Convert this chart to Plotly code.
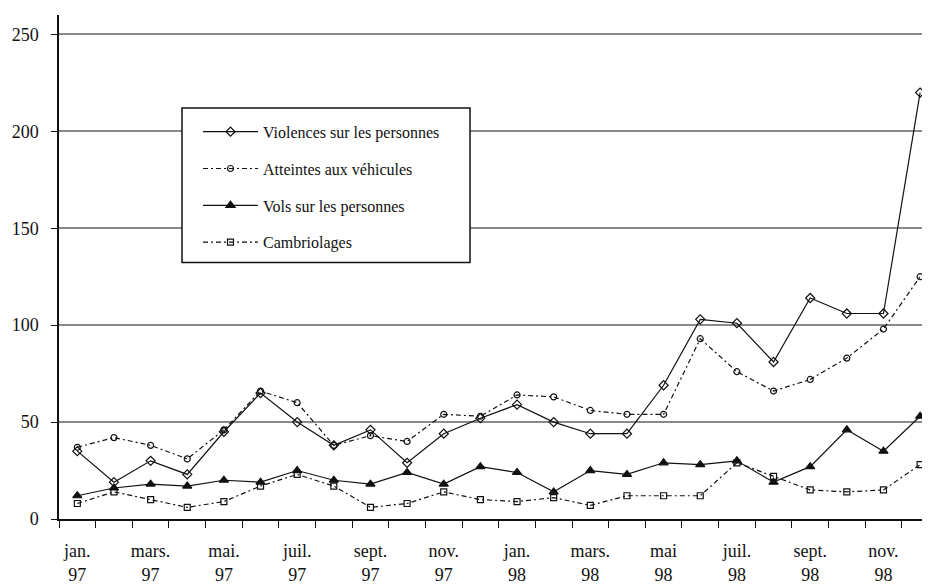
import plotly.graph_objects as go

months = ["jan. 97", "févr. 97", "mars. 97", "avr. 97", "mai. 97", "juin 97", "juil. 97", "août 97",
          "sept. 97", "oct. 97", "nov. 97", "déc. 97",
          "jan. 98", "févr. 98", "mars. 98", "avr. 98", "mai 98", "juin 98", "juil. 98", "août 98",
          "sept. 98", "oct. 98", "nov. 98", "déc. 98"]
tick_labels = ["jan.<br>97", "mars.<br>97", "mai.<br>97", "juil.<br>97", "sept.<br>97", "nov.<br>97",
               "jan.<br>98", "mars.<br>98", "mai<br>98", "juil.<br>98", "sept.<br>98", "nov.<br>98"]

violences = [35, 19, 30, 23, 45, 65, 50, 38, 46, 29, 44, 52,
             59, 50, 44, 44, 69, 103, 101, 81, 114, 106, 106, 220]
atteintes = [37, 42, 38, 31, 46, 66, 60, 38, 43, 40, 54, 53,
             64, 63, 56, 54, 54, 93, 76, 66, 72, 83, 98, 125]
vols = [12, 16, 18, 17, 20, 19, 25, 20, 18, 24, 18, 27,
        24, 14, 25, 23, 29, 28, 30, 19, 27, 46, 35, 53]
cambriolages = [8, 14, 10, 6, 9, 17, 23, 17, 6, 8, 14, 10,
                9, 11, 7, 12, 12, 12, 29, 22, 15, 14, 15, 28]

names = ["Violences sur les personnes", "Atteintes aux véhicules",
         "Vols sur les personnes", "Cambriolages"]

x = list(range(len(months)))
font_family = "Liberation Serif, Times New Roman, serif"

# page body has an 8px margin: figure is sized/offset to compensate
W, H = 922, 577
ML, MR, MT, MB = 51, 0, 7, 55
PW, PH = W - ML - MR, H - MT - MB

def px_x(xp):  # absolute page x -> paper
    return (xp - 8 - ML) / PW

def px_y(yp):  # absolute page y -> paper
    return (8 + MT + PH - yp) / PH

fig = go.Figure()
styles = [
    (violences, "solid", "diamond-open", 7),
    (atteintes, "5px,3px,2px,3px", "circle-open", 6),
    (vols, "solid", "triangle-up", 8),
    (cambriolages, "5px,3px,2px,3px", "square-open", 6),
]
for i, (vals, dash, sym, sz) in enumerate(styles):
    fig.add_trace(go.Scatter(
        x=x, y=vals, name=names[i], mode="lines+markers",
        customdata=months, legendgroup=f"g{i}",
        line=dict(color="#111111", width=1.2, dash=dash),
        marker=dict(symbol=sym, size=sz, color="#111111",
                    line=dict(color="#111111", width=1.2)),
    ))

fig.update_layout(
    width=W, height=H,
    margin=dict(l=ML, r=MR, t=MT, b=MB),
    paper_bgcolor="white", plot_bgcolor="white",
    font=dict(family=font_family, color="#111111", size=15),
    showlegend=True,
    legend=dict(
        x=px_x(198), y=px_y(117), xanchor="left", yanchor="top",
        bgcolor="rgba(0,0,0,0)", borderwidth=0,
        font=dict(family=font_family, size=16, color="#111111"),
        itemwidth=55, tracegroupgap=13,
    ),
    shapes=[dict(type="rect", xref="paper", yref="paper",
                 x0=px_x(182), x1=px_x(470),
                 y0=px_y(268), y1=px_y(110),
                 line=dict(color="#111111", width=1.5),
                 fillcolor="white", layer="above")],
)
fig.update_xaxes(
    range=[-0.5, 23.27], tickmode="array",
    tickvals=x[::2], ticktext=tick_labels,
    ticks="", ticklabelstandoff=15,
    showgrid=False, zeroline=False,
    showline=True, linecolor="#111111", linewidth=1.5,
    tickfont=dict(family=font_family, size=18),
    minor=dict(tickmode="linear", tick0=-0.5, dtick=1, ticks="outside",
               ticklen=7, tickcolor="#111111", tickwidth=1.2, showgrid=False),
)
fig.update_yaxes(
    range=[0, 260], tickvals=[0, 50, 100, 150, 200, 250],
    ticks="outside", ticklen=6, tickcolor="#111111", tickwidth=1.2,
    ticklabelstandoff=9,
    showgrid=True, gridcolor="#8a8a8a", gridwidth=1.5,
    zeroline=False, showline=True, linecolor="#111111", linewidth=1.5,
    tickfont=dict(family=font_family, size=18),
)

fig.write_html("out.html")
